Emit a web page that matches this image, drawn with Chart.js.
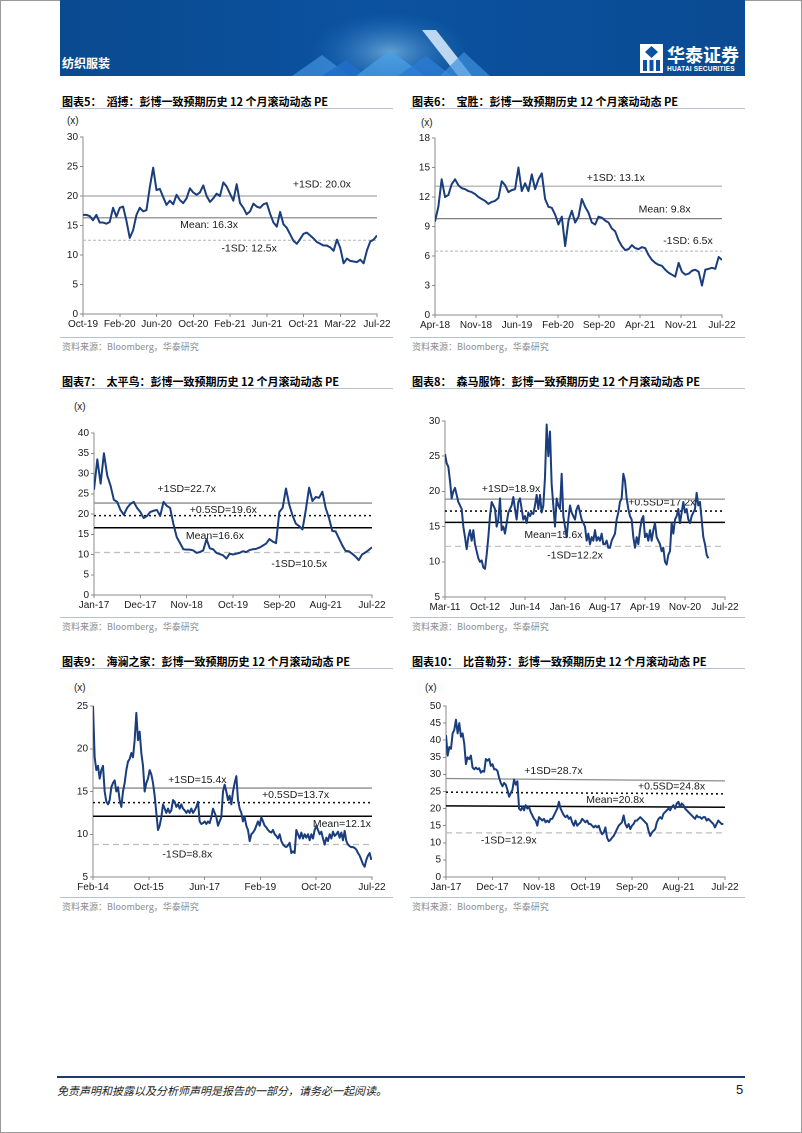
<!DOCTYPE html>
<html><head><meta charset="utf-8">
<script src="https://cdn.jsdelivr.net/npm/chart.js@4/dist/chart.umd.min.js"></script>
<style>
body{margin:0;width:802px;height:1133px;position:relative;background:#fff;overflow:hidden;font-family:"Liberation Sans",Arial,sans-serif}
.frame{position:absolute;left:0;top:0;width:800px;height:1131px;border:1px solid #9a9a9a}
#banner{position:absolute;left:60px;top:0;width:685px;height:76px;overflow:hidden}
.ttl{position:absolute;font:bold 11px "Noto Sans CJK SC",sans-serif;color:#000;white-space:pre;line-height:14px}
.rule{position:absolute;height:1px;background:#b3c1d3}
.src{position:absolute;font:9px "Noto Sans CJK SC",sans-serif;color:#8c8c8c;white-space:pre;line-height:12px}
.unit{position:absolute;font:10px "Liberation Sans",Arial,sans-serif;color:#1a1a1a;line-height:12px}
.wrap{position:absolute}
</style></head>
<body>
<div class="frame"></div>
<div id="banner">
<svg width="685" height="76" xmlns="http://www.w3.org/2000/svg">
<defs>
<linearGradient id="bg" x1="0" x2="1" y1="0" y2="0"><stop offset="0" stop-color="#0a4a8f"/><stop offset="0.45" stop-color="#0b52a0"/><stop offset="1" stop-color="#0a4b93"/></linearGradient>
<radialGradient id="glow" cx="0.5" cy="0.5" r="0.5"><stop offset="0" stop-color="#9ad4f5" stop-opacity="0.6"/><stop offset="1" stop-color="#2a7fd0" stop-opacity="0"/></radialGradient>
</defs>
<rect width="685" height="76" fill="url(#bg)"/>
<ellipse cx="330" cy="52" rx="80" ry="40" fill="url(#glow)"/>
<polygon points="232,76 262,55 290,76" fill="#3f8fdc" opacity="0.75"/>
<polygon points="262,76 286,60 306,76" fill="#1f6fc8" opacity="0.9"/>
<polygon points="296,76 330,50 365,76" fill="#4aa0e6" opacity="0.7"/>
<polygon points="338,76 366,56 392,76" fill="#2a7ad2" opacity="0.85"/>
<polygon points="362,30 376,30 412,76 398,76" fill="#d9ecfb" opacity="0.85"/>
<polygon points="380,76 404,52 430,76" fill="#3c90dd" opacity="0.7"/>
</svg>
<div style="position:absolute;left:2px;top:54px;font:bold 12px 'Noto Sans CJK SC';color:#fff">纺织服装</div>
<svg style="position:absolute;left:580px;top:44px" width="23" height="29">
<rect x="0" y="0" width="23" height="29" fill="#fff"/>
<polygon points="11.5,2 18,8 11.5,14 5,8" fill="#0b52a0"/>
<rect x="3" y="16" width="4" height="11" fill="#0b52a0"/>
<rect x="9.5" y="16" width="4" height="11" fill="#0b52a0"/>
<rect x="16" y="16" width="4" height="11" fill="#0b52a0"/>
</svg>
<div style="position:absolute;left:607px;top:43px;font:bold 18px 'Noto Sans CJK SC';color:#fff;line-height:22px">华泰证券</div>
<div style="position:absolute;left:607px;top:65px;font:bold 6.5px 'Liberation Sans';color:#fff;letter-spacing:0.2px">HUATAI SECURITIES</div>
</div>

<div class="ttl" style="left:62px;top:94px">图表5：  滔搏：彭博一致预期历史 12 个月滚动动态 PE</div>
<div class="ttl" style="left:412px;top:94px">图表6：  宝胜：彭博一致预期历史 12 个月滚动动态 PE</div>
<div class="ttl" style="left:62px;top:374px">图表7：  太平鸟：彭博一致预期历史 12 个月滚动动态 PE</div>
<div class="ttl" style="left:412px;top:374px">图表8：  森马服饰：彭博一致预期历史 12 个月滚动动态 PE</div>
<div class="ttl" style="left:62px;top:654px">图表9：  海澜之家：彭博一致预期历史 12 个月滚动动态 PE</div>
<div class="ttl" style="left:412px;top:654px">图表10：  比音勒芬：彭博一致预期历史 12 个月滚动动态 PE</div>

<div class="rule" style="left:60px;top:108px;width:333px"></div>
<div class="rule" style="left:410px;top:108px;width:335px"></div>
<div class="rule" style="left:60px;top:388px;width:333px"></div>
<div class="rule" style="left:410px;top:388px;width:335px"></div>
<div class="rule" style="left:60px;top:668px;width:333px"></div>
<div class="rule" style="left:410px;top:668px;width:335px"></div>

<div class="rule" style="left:60px;top:337px;width:333px"></div>
<div class="rule" style="left:410px;top:337px;width:335px"></div>
<div class="rule" style="left:60px;top:617px;width:333px"></div>
<div class="rule" style="left:410px;top:617px;width:335px"></div>
<div class="rule" style="left:60px;top:897px;width:333px"></div>
<div class="rule" style="left:410px;top:897px;width:335px"></div>

<div class="src" style="left:62px;top:341px">资料来源：Bloomberg，华泰研究</div>
<div class="src" style="left:412px;top:341px">资料来源：Bloomberg，华泰研究</div>
<div class="src" style="left:62px;top:621px">资料来源：Bloomberg，华泰研究</div>
<div class="src" style="left:412px;top:621px">资料来源：Bloomberg，华泰研究</div>
<div class="src" style="left:62px;top:901px">资料来源：Bloomberg，华泰研究</div>
<div class="src" style="left:412px;top:901px">资料来源：Bloomberg，华泰研究</div>

<div class="unit" style="left:67px;top:115px">(x)</div>
<div class="unit" style="left:421px;top:117px">(x)</div>
<div class="unit" style="left:74px;top:401px">(x)</div>
<div class="unit" style="left:74px;top:682px">(x)</div>
<div class="unit" style="left:425px;top:682px">(x)</div>

<div class="wrap" id="w5"><canvas id="c5"></canvas></div>
<div class="wrap" id="w6"><canvas id="c6"></canvas></div>
<div class="wrap" id="w7"><canvas id="c7"></canvas></div>
<div class="wrap" id="w8"><canvas id="c8"></canvas></div>
<div class="wrap" id="w9"><canvas id="c9"></canvas></div>
<div class="wrap" id="w10"><canvas id="c10"></canvas></div>

<div style="position:absolute;left:57px;top:1076px;width:688px;height:2px;background:#1f3a6e"></div>
<div style="position:absolute;left:57px;top:1083px;font:italic 11px 'Noto Sans CJK SC';color:#222;line-height:14px">免责声明和披露以及分析师声明是报告的一部分，请务必一起阅读。</div>
<div style="position:absolute;left:736px;top:1082px;font:13px 'Liberation Sans';color:#222">5</div>

<script>
// ---------- data ----------
const xLabels5 = ['Oct-19','Feb-20','Jun-20','Oct-20','Feb-21','Jun-21','Oct-21','Mar-22','Jul-22'];
const pe5 = [16.8,16.8,16.6,15.9,16.8,15.5,15.5,15.3,15.6,18.0,16.5,18.0,18.2,15.8,12.9,14.2,16.8,18.0,17.4,17.6,
21.5,24.8,21.0,21.2,19.8,18.5,19.2,18.6,20.2,19.3,18.8,19.6,21.3,20.6,20.2,20.6,21.8,20.0,19.0,19.6,
20.4,20.0,22.3,21.6,20.4,19.2,22.0,18.8,18.0,16.9,17.4,18.7,18.2,18.0,18.6,18.8,17.0,15.5,14.8,17.3,
15.2,14.6,13.5,12.4,11.9,12.7,13.6,13.8,13.3,12.8,12.2,11.9,11.6,11.6,11.3,10.7,12.6,11.2,8.6,9.4,
9.0,8.9,8.8,9.2,8.6,10.8,12.3,12.6,13.3];
const end5 = 8;
const ref5 = {sd1:20.0, mean:16.3, sdm1:12.5};

const xLabels6 = ['Apr-18','Nov-18','Jun-19','Feb-20','Sep-20','Apr-21','Nov-21','Jul-22'];
const pe6 = [9.5,11.0,13.8,12.0,12.2,13.3,13.8,13.2,12.9,12.8,12.6,12.5,12.3,12.0,11.8,11.6,11.3,11.5,11.6,11.9,
13.6,13.2,12.5,12.7,12.8,15.0,12.6,13.4,12.6,14.3,12.8,13.8,14.4,11.8,11.0,10.9,10.2,9.2,10.0,7.0,
9.6,10.6,9.4,10.0,11.8,11.0,10.4,9.4,9.2,10.0,9.9,9.6,9.4,8.8,8.5,7.6,7.0,6.6,6.7,7.1,
6.8,6.7,6.9,6.8,6.1,5.6,5.3,5.1,5.0,4.6,4.3,4.1,3.9,5.3,4.4,4.1,4.2,4.5,4.6,4.4,
3.0,4.6,4.7,4.8,4.7,5.9,5.6];
const end6 = 7;
const ref6 = {sd1:13.1, mean:9.8, sdm1:6.5};

const xLabels7 = ['Jan-17','Dec-17','Nov-18','Oct-19','Sep-20','Aug-21','Jul-22'];
const pe7 = [26.0,33.5,27.5,35.0,29.5,27.0,23.5,23.0,21.0,19.8,21.5,22.5,23.0,21.5,20.5,19.0,19.5,20.5,20.8,21.0,
19.5,23.0,22.0,21.5,17.5,14.3,12.8,11.3,11.2,11.2,11.0,10.4,10.6,11.0,13.8,11.5,11.3,10.4,10.1,9.8,
9.0,10.2,10.0,10.2,10.4,10.8,10.6,11.1,11.3,11.4,11.7,12.2,12.7,13.8,13.2,12.8,20.5,21.5,26.3,22.3,
19.6,17.6,17.0,16.2,21.0,26.5,23.2,24.2,24.0,25.5,21.5,19.0,15.8,15.7,14.0,12.3,10.9,10.8,10.2,9.5,
8.6,10.0,10.5,11.1,11.8];
const end7 = 6;
const ref7 = {sd1:22.7, sd05:19.6, mean:16.6, sdm1:10.5};

const xLabels8 = ['Mar-11','Oct-12','Jun-14','Jan-16','Aug-17','Apr-19','Nov-20','Jul-22'];
const pe8 = [25.3,24.0,23.5,21.5,19.0,20.0,20.5,19.5,18.5,18.0,17.5,15.0,13.5,11.8,13.5,14.5,13.0,14.5,12.5,11.5,
10.5,10.0,10.2,9.2,9.0,11.0,13.5,16.5,18.5,18.0,17.5,15.0,16.0,19.0,14.5,15.0,14.0,15.5,17.0,17.5,
18.0,19.2,17.5,16.0,18.5,19.0,17.5,16.0,16.5,15.5,17.0,16.5,17.0,16.8,18.0,19.5,17.5,19.5,17.0,18.0,
22.0,29.5,25.0,28.5,21.0,18.0,15.0,19.0,18.0,17.5,22.5,16.5,15.0,13.5,16.0,18.0,17.0,16.5,16.0,17.5,
18.0,17.0,16.0,15.5,15.0,13.0,14.0,12.5,13.5,13.0,14.5,13.0,13.5,13.0,14.0,12.5,12.5,13.0,12.0,12.0,
13.0,13.5,14.0,16.0,17.0,18.5,19.0,22.5,21.5,19.0,17.5,16.5,16.0,13.5,12.0,13.5,12.5,14.5,16.0,16.5,
13.5,14.0,13.0,14.5,13.0,14.5,15.5,13.5,13.0,12.5,11.5,12.0,10.0,9.6,11.0,11.5,15.5,14.0,16.0,16.5,
17.5,15.5,17.0,18.5,17.0,17.5,16.0,15.5,16.5,17.0,17.5,19.8,18.0,18.5,16.0,13.5,12.5,11.0,10.5];
const end8 = 6.583;
const ref8 = {sd1:18.9, sd05:17.2, mean:15.6, sdm1:12.2};

const xLabels9 = ['Feb-14','Oct-15','Jun-17','Feb-19','Oct-20','Jul-22'];
const pe9 = [25.0,19.0,17.5,18.0,16.5,17.5,18.0,15.0,13.8,13.5,14.0,15.5,16.0,16.3,15.0,15.5,14.0,13.2,15.0,16.0,
17.5,18.5,18.8,19.5,19.0,21.0,24.2,21.0,22.0,19.5,18.0,15.0,16.0,16.5,17.5,17.0,16.0,14.5,12.5,10.5,
11.0,12.0,13.5,13.0,12.5,13.0,12.5,12.8,14.0,13.8,13.2,13.5,13.0,13.5,13.0,12.8,12.5,12.8,12.5,13.0,
12.5,12.8,13.2,13.8,11.5,11.2,11.3,11.5,11.2,11.5,11.3,12.0,13.0,12.5,12.0,11.0,11.5,12.0,15.0,15.8,
15.0,14.0,14.5,13.5,15.0,16.0,16.8,14.0,13.0,12.5,11.5,12.0,11.0,10.5,9.2,10.0,10.2,10.5,11.0,11.5,
11.0,12.0,11.5,11.0,10.8,10.5,10.3,10.2,10.5,10.0,9.8,9.5,10.0,9.2,8.8,8.6,8.5,8.7,9.0,7.8,
8.0,7.8,10.5,10.0,9.5,10.2,9.5,10.0,9.6,10.0,9.3,10.0,9.5,10.5,11.0,10.5,10.0,10.3,9.5,8.8,
9.6,9.2,10.0,9.5,10.3,9.8,10.0,10.3,9.6,10.2,9.3,10.4,9.2,8.8,8.6,8.5,8.5,8.4,8.2,7.8,
7.5,7.0,6.5,6.2,7.0,7.5,7.8,7.0];
const end9 = 4.988;
const ref9 = {sd1:15.4, sd05:13.7, mean:12.1, sdm1:8.8};

const xLabels10 = ['Jan-17','Dec-17','Nov-18','Oct-19','Sep-20','Aug-21','Jul-22'];
const pe10 = [41.5,35.5,38,37.5,42,43,46,42,45,41,42,39,33,35,34.5,35.5,32,31.5,32,31.5,
31.8,30.5,31,30.8,34.5,34,34.5,32.5,33,31.5,31.5,31,29,27.5,26.5,27.5,27,25.5,23.5,24.5,
25.5,28.5,27,28,20,19.5,20.5,19.5,21,20,20.5,19,18,17,16.5,15,17.5,17,16.5,17,
16,16.5,16,17,17,18,19,20,22,20,19,18,17.5,18,17,17.5,16,15,16.5,15,
15.5,16,17,16.5,16,16.5,15.5,15.5,15,14.5,15,14.5,15,13.5,12.5,13,14.5,11.5,10.5,10.8,
11.5,12,13,14,15,15.5,16,18,15.5,14.5,15.5,14,15,15.5,16.5,16.5,17,17.5,17,16.5,
16,15.5,13.5,12,13,13.5,14,16,17,17.5,17,18.5,19,19.5,20,19.5,20.5,21,20,21.5,
22,20.5,21.5,21,20,19.5,19,18.5,18,17.5,17,18,17.5,17.5,17,17.5,17.5,16.5,17,16.5,
16,15.5,14.5,15.5,16.5,16,15.5,15.5];
const end10 = 5.963;
const ref10 = {sd1:[28.8,28.1], sd05:[24.8,24.3], mean:[20.8,20.4], sdm1:12.9};
const ref10Text = {sd1:28.7, sd05:24.8, mean:20.8, sdm1:12.9};

// ---------- rendering ----------
const NAVY = '#1a3d7d';
const AX = '#8a8a8a';
Chart.defaults.font.family = '"Liberation Sans", Arial, sans-serif';
Chart.defaults.font.size = 10;
Chart.defaults.color = '#1a1a1a';

const refLabelPlugin = {
  id: 'refLabels',
  beforeDatasetsDraw(chart, args, opts) {
    const {ctx, scales: {x, y}} = chart;
    ctx.save();
    ctx.font = '10.5px "Liberation Sans", Arial, sans-serif';
    ctx.fillStyle = '#1a1a1a';
    ctx.textAlign = 'center';
    ctx.textBaseline = 'middle';
    (opts.items || []).forEach(it => ctx.fillText(it.text, x.getPixelForValue(it.x), y.getPixelForValue(it.y)));
    ctx.restore();
  }
};

function makeChart(id, box, plot, cfg) {
  const canvas = document.getElementById('c' + id);
  const wrap = document.getElementById('w' + id);
  Object.assign(wrap.style, {left: box.x + 'px', top: box.y + 'px', width: box.w + 'px', height: box.h + 'px'});
  canvas.width = box.w; canvas.height = box.h;
  canvas.style.width = box.w + 'px'; canvas.style.height = box.h + 'px';
  const yW = plot.l - box.x, padT = plot.t - box.y, padR = box.x + box.w - plot.r, xH = box.y + box.h - plot.b;
  const n = cfg.values.length, xmax = cfg.xLabels.length - 1;
  const series = cfg.values.map((v, i) => ({x: i * cfg.endT / (n - 1), y: v}));
  const datasets = [{data: series, borderColor: NAVY, borderWidth: 2, pointRadius: 0, tension: 0, borderJoinStyle: 'round'}];
  cfg.refs.forEach(r => {
    const v0 = Array.isArray(r.v) ? r.v[0] : r.v, v1 = Array.isArray(r.v) ? r.v[1] : r.v;
    datasets.push({data: [{x: 0, y: v0}, {x: xmax, y: v1}], borderColor: r.color, borderWidth: r.w,
      borderDash: r.dash || [], pointRadius: 0, borderCapStyle: 'butt'});
  });
  new Chart(canvas, {
    type: 'line',
    data: {datasets},
    options: {
      responsive: false, animation: false, devicePixelRatio: 2,
      layout: {padding: {left: 0, top: padT, right: padR, bottom: 0}},
      plugins: {legend: {display: false}, tooltip: {enabled: false}, refLabels: {items: cfg.labels}},
      scales: {
        x: {
          type: 'linear', min: 0, max: xmax,
          afterBuildTicks: s => { s.ticks = cfg.xLabels.map((_, i) => ({value: i})); },
          afterFit: s => { s.height = xH; },
          ticks: {callback: v => cfg.xLabels[v], maxRotation: 0, minRotation: 0, autoSkip: false, padding: 1},
          grid: {display: true, drawOnChartArea: false, drawTicks: true, tickLength: 3, color: AX},
          border: {display: true, color: AX, width: 1}
        },
        y: {
          min: cfg.yMin, max: cfg.yMax,
          ticks: {stepSize: cfg.yStep, padding: 2},
          afterFit: s => { s.width = yW; },
          grid: {display: true, drawOnChartArea: false, drawTicks: true, tickLength: 3, color: AX},
          border: {display: true, color: AX, width: 1}
        }
      }
    },
    plugins: [refLabelPlugin]
  });
}

function refsA(r) {
  return [
    {v: r.sd1, color: '#a6a6a6', w: 1.2},
    {v: r.mean, color: '#7f7f7f', w: 1.2},
    {v: r.sdm1, color: '#b3b3b3', w: 1, dash: [3, 2]}
  ];
}
function refsB(r) {
  return [
    {v: r.sd1, color: '#8c8c8c', w: 1.3},
    {v: r.sd05, color: '#111111', w: 1.6, dash: [2, 3]},
    {v: r.mean, color: '#000000', w: 1.5},
    {v: r.sdm1, color: '#bdbdbd', w: 1.2, dash: [6, 4]}
  ];
}
const f = v => v.toFixed(1) + 'x';

makeChart(5, {x: 60, y: 110, w: 335, h: 226}, {l: 83, t: 137, r: 377, b: 314}, {
  values: pe5, endT: end5, xLabels: xLabels5, yMin: 0, yMax: 30, yStep: 5, refs: refsA(ref5),
  labels: [{x: 6.5, y: 21.9, text: '+1SD: ' + f(ref5.sd1)}, {x: 3.43, y: 15.1, text: 'Mean: ' + f(ref5.mean)}, {x: 4.52, y: 11.1, text: '-1SD: ' + f(ref5.sdm1)}]
});
makeChart(6, {x: 410, y: 110, w: 335, h: 226}, {l: 435, t: 138, r: 722, b: 315}, {
  values: pe6, endT: end6, xLabels: xLabels6, yMin: 0, yMax: 18, yStep: 3, refs: refsA(ref6),
  labels: [{x: 4.41, y: 13.9, text: '+1SD: ' + f(ref6.sd1)}, {x: 5.6, y: 10.7, text: 'Mean: ' + f(ref6.mean)}, {x: 6.17, y: 7.5, text: '-1SD: ' + f(ref6.sdm1)}]
});
makeChart(7, {x: 60, y: 390, w: 335, h: 226}, {l: 94, t: 433, r: 372, b: 595}, {
  values: pe7, endT: end7, xLabels: xLabels7, yMin: 0, yMax: 40, yStep: 5, refs: refsB(ref7),
  labels: [{x: 2.0, y: 26.1, text: '+1SD=' + f(ref7.sd1)}, {x: 2.79, y: 20.9, text: '+0.5SD=' + f(ref7.sd05)}, {x: 2.61, y: 14.5, text: 'Mean=' + f(ref7.mean)}, {x: 4.43, y: 7.6, text: '-1SD=' + f(ref7.sdm1)}]
});
makeChart(8, {x: 410, y: 390, w: 335, h: 226}, {l: 445, t: 421, r: 725, b: 597}, {
  values: pe8, endT: end8, xLabels: xLabels8, yMin: 5, yMax: 30, yStep: 5, refs: refsB(ref8),
  labels: [{x: 1.65, y: 20.36, text: '+1SD=' + f(ref8.sd1)}, {x: 5.42, y: 18.4, text: '+0.5SD=' + f(ref8.sd05)}, {x: 2.71, y: 13.8, text: 'Mean=' + f(ref8.mean)}, {x: 3.25, y: 10.86, text: '-1SD=' + f(ref8.sdm1)}]
});
makeChart(9, {x: 60, y: 670, w: 335, h: 226}, {l: 93, t: 706, r: 372, b: 877}, {
  values: pe9, endT: end9, xLabels: xLabels9, yMin: 5, yMax: 25, yStep: 5, refs: refsB(ref9),
  labels: [{x: 1.87, y: 16.36, text: '+1SD=' + f(ref9.sd1)}, {x: 3.63, y: 14.6, text: '+0.5SD=' + f(ref9.sd05)}, {x: 4.46, y: 11.2, text: 'Mean=' + f(ref9.mean)}, {x: 1.69, y: 7.6, text: '-1SD=' + f(ref9.sdm1)}]
});
makeChart(10, {x: 410, y: 670, w: 335, h: 226}, {l: 446, t: 706, r: 725, b: 877}, {
  values: pe10, endT: end10, xLabels: xLabels10, yMin: 0, yMax: 50, yStep: 5, refs: refsB(ref10),
  labels: [{x: 2.31, y: 31.0, text: '+1SD=' + f(ref10Text.sd1)}, {x: 4.85, y: 26.4, text: '+0.5SD=' + f(ref10Text.sd05)}, {x: 3.64, y: 22.5, text: 'Mean=' + f(ref10Text.mean)}, {x: 1.35, y: 10.7, text: '-1SD=' + f(ref10Text.sdm1)}]
});
</script>
</body></html>
